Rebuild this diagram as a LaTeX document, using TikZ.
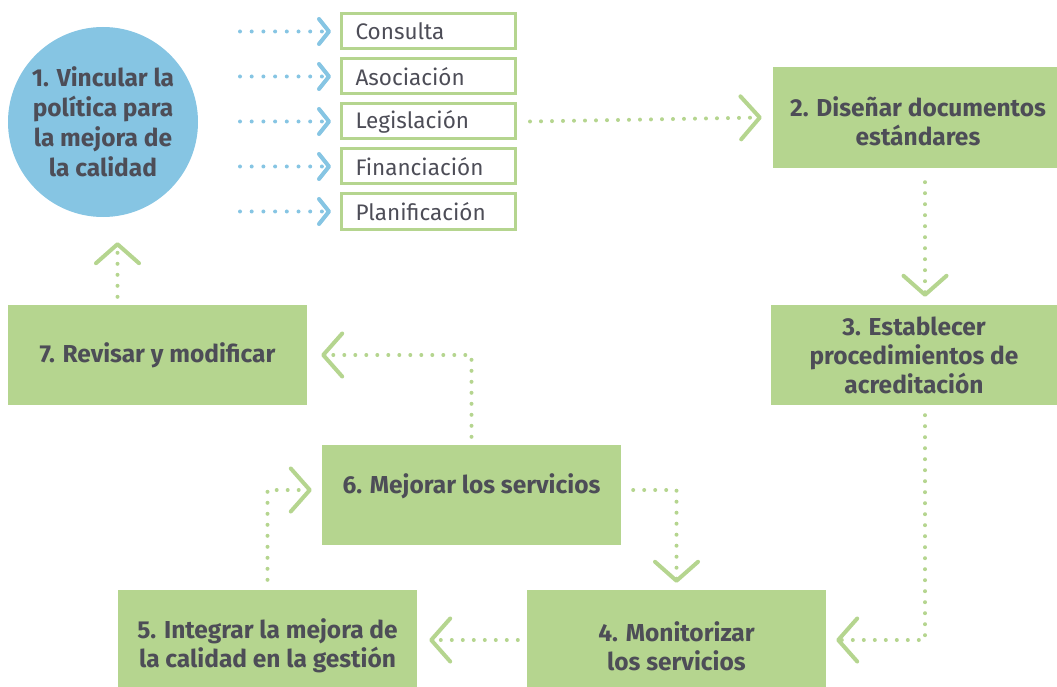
\documentclass[tikz,border=0pt]{standalone}
\usepackage{fontspec}
\setmainfont{Fira Sans}
\usetikzlibrary{arrows.meta}
\definecolor{boxgreen}{HTML}{B5D58F}
\definecolor{circblue}{HTML}{86C5E3}
\definecolor{txtgray}{HTML}{4D4D57}

\tikzset{
  stage/.style={fill=boxgreen, text=txtgray, font=\bfseries\fontsize{24.5}{29}\selectfont, align=center, inner sep=0pt},
  option/.style={draw=boxgreen, line width=3pt, text=txtgray, font=\fontsize{22.5}{24}\selectfont, minimum height=35pt, text width=146pt, align=left, inner xsep=14pt, inner ysep=0pt},
  greendots/.style={draw=boxgreen, line width=4pt, line cap=round, dash pattern=on 0pt off 11pt, -{Straight Barb[length=19pt, width=43pt, round]}},
  bluedots/.style={draw=circblue, line width=4pt, line cap=round, dash pattern=on 0pt off 11.7pt, -{Straight Barb[length=10pt, width=25pt, round]}}
}

\begin{document}
\begin{tikzpicture}[x=1pt, y=-1pt]
\useasboundingbox (0,0) rectangle (1057,687);

\node [circle, fill=circblue, minimum size=190pt, inner sep=0pt, text=txtgray, font=\bfseries\fontsize{24.5}{30}\selectfont, align=center] (vincular) at (103,122) {1. Vincular la\\política para\\la mejora de\\la calidad};

\node [option] (consulta) at (428.5,31.5) {Consulta};
\node [option] (asociacion) at (428.5,76.5) {Asociación};
\node [option] (legislacion) at (428.5,121.5) {Legislación};
\node [option] (financiacion) at (428.5,166.5) {Financiación};
\node [option] (planificacion) at (428.5,211.5) {Planificación};

\foreach \opt in {consulta,asociacion,legislacion,financiacion,planificacion}
  \draw [bluedots] ([xshift=-100pt]\opt.west) -- ([xshift=-9pt]\opt.west);

\node [stage, minimum width=290pt, minimum height=101pt, text height=57pt] (disenar) at (918,117.5) {2. Diseñar documentos\\estándares};
\node [stage, minimum width=286pt, minimum height=100pt] (establecer) at (914,355) {3. Establecer\\procedimientos de\\acreditación};
\node [stage, minimum width=299pt, minimum height=112pt] (monitorizar) at (676.5,646) {4. Monitorizar\\los servicios};
\node [stage, minimum width=299pt, minimum height=112pt] (integrar) at (267.5,646) {5. Integrar la mejora de\\la calidad en la gestión};
\node [stage, minimum width=299pt, minimum height=100pt, text depth=22pt] (mejorar) at (471.5,495) {6. Mejorar los servicios};
\node [stage, minimum width=299pt, minimum height=100pt] (revisar) at (157.5,355) {7. Revisar y modificar};

\coordinate (up7) at ([xshift=-40pt]revisar.north);

\draw [greendots] ([xshift=13pt]legislacion.east) -- ([xshift=-11pt]disenar.west);
\draw [greendots] ([xshift=7pt,yshift=-14pt]disenar.south) -- ([xshift=11pt,yshift=8pt]establecer.north);
\draw [greendots] ([xshift=11pt,yshift=-10pt]establecer.south) |- ([xshift=10pt,yshift=6pt]monitorizar.east);
\draw [greendots] ([xshift=12pt,yshift=5pt]mejorar.east) -| ([yshift=7pt]monitorizar.north);
\draw [greendots] ([xshift=-9pt,yshift=6pt]monitorizar.west) -- ([xshift=12pt,yshift=6pt]integrar.east);
\draw [greendots] ([yshift=10pt]integrar.north) |- ([xshift=-10pt,yshift=5pt]mejorar.west);
\draw [greendots] ([yshift=8pt]mejorar.north) |- ([xshift=14pt]revisar.east);
\draw [greendots] ([yshift=8pt]up7) -- ([yshift=-25pt]up7 |- vincular.south);
\end{tikzpicture}
\end{document}
